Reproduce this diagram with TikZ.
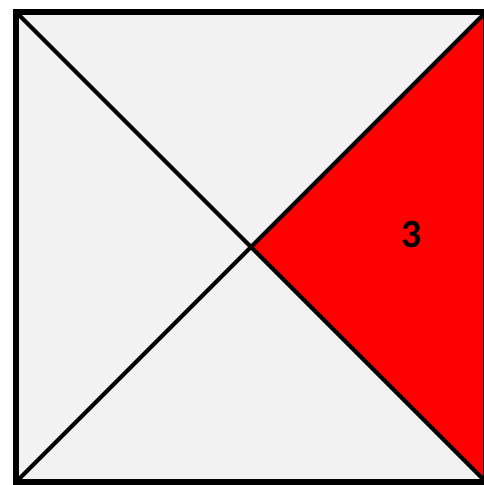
\documentclass[tikz,border=0pt]{standalone}
\usepackage{fontspec}
\setmainfont{Carlito}[BoldFont={Carlito Bold}]
\usepackage{xcolor}
\usepackage{tikz}
\definecolor{pale}{HTML}{F2F2F2}

\begin{document}
\begin{tikzpicture}[x=1pt,y=-1pt]
    \useasboundingbox (0,0) rectangle (484,485);
    \coordinate (tl) at (16,12);
    \coordinate (tr) at (486,12);
    \coordinate (br) at (486,482);
    \coordinate (bl) at (16,482);
    \coordinate (c) at (251,247);
    \fill[pale] (tl) rectangle (br);
    \fill[red] (tr) -- (c) -- (br) -- cycle;
    \draw[line width=4pt] (tl) -- (br);
    \draw[line width=4pt] (bl) -- (tr);
    \draw[line width=6pt] (tl) rectangle (br);
    \node[font=\bfseries\fontsize{40}{48}\selectfont] (three) at (412,235) {3};
\end{tikzpicture}
\end{document}
